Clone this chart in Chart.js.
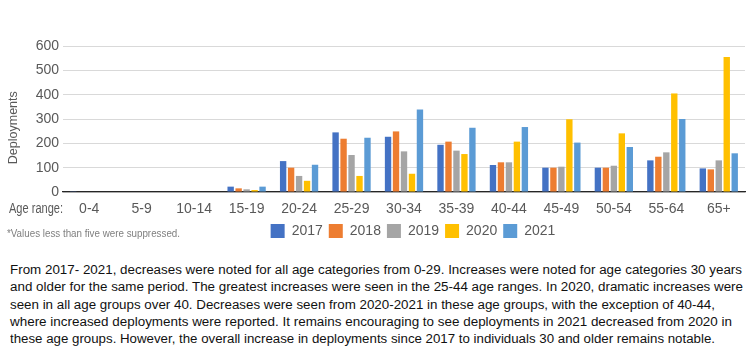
<!DOCTYPE html>
<html>
<head>
<meta charset="utf-8">
<script src="https://cdn.jsdelivr.net/npm/chart.js@4.4.1/dist/chart.umd.min.js"></script>
<style>
  html, body { margin: 0; padding: 0; background: #fff; }
  #wrap { position: relative; width: 752px; height: 359px; overflow: hidden; }
  #c { position: absolute; left: 0; top: 0; }
  .fit { position: absolute; white-space: nowrap; transform-origin: 0 50%; display: inline-block; }
  .para { font-family: "Liberation Sans", Arial, sans-serif; font-size: 12.5px; color: #111; line-height: 16px; }
  .note { font-family: "Liberation Sans", Arial, sans-serif; font-size: 10px; color: #7f7f7f; line-height: 12px; }
  .axl { font-family: "Liberation Sans", Arial, sans-serif; font-size: 14px; color: #595959; line-height: 16px; }
</style>
</head>
<body>
<div id="wrap">
  <canvas id="c" width="752" height="248"></canvas>
  <div class="fit axl" style="left:9px; top:200px" data-w="54">Age range:</div>
  <div class="fit note" style="left:7px; top:228px" data-w="173">*Values less than five were suppressed.</div>
  <div id="para"></div>
</div>
<script>
const categories = ['0-4','5-9','10-14','15-19','20-24','25-29','30-34','35-39','40-44','45-49','50-54','55-64','65+'];
const seriesNames = ['2017','2018','2019','2020','2021'];
const v2017 = [3, 0, 0, 22, 127, 245, 227, 194, 111, 100, 100, 130, 97];
const v2018 = [0, 0, 0, 15, 100, 219, 249, 207, 122, 100, 100, 145, 93];
const v2019 = [0, 0, 0, 11, 66, 152, 167, 170, 122, 104, 108, 163, 130];
const v2020 = [0, 0, 0, 8, 46, 66, 75, 156, 207, 299, 241, 405, 555];
const v2021 = [0, 0, 0, 22, 112, 223, 339, 264, 267, 203, 185, 300, 159];
const yTicks = [0, 100, 200, 300, 400, 500, 600];
const paragraphLines = [
  'From 2017- 2021, decreases were noted for all age categories from 0-29. Increases were noted for age categories 30 years',
  'and older for the same period. The greatest increases were seen in the 25-44 age ranges. In 2020, dramatic increases were',
  'seen in all age groups over 40. Decreases were seen from 2020-2021 in these age groups, with the exception of 40-44,',
  'where increased deployments were reported. It remains encouraging to see deployments in 2021 decreased from 2020 in',
  'these age groups. However, the overall increase in deployments since 2017 to individuals 30 and older remains notable.'
];

const colors = ['#4472C4', '#ED7D31', '#A5A5A5', '#FFC000', '#5B9BD5'];
const values = [v2017, v2018, v2019, v2020, v2021];

// paragraph
const lineEnds = [742, 743, 715, 732, 715];
const para = document.getElementById('para');
paragraphLines.forEach((t, i) => {
  const d = document.createElement('div');
  d.className = 'fit para';
  d.style.left = '10px';
  d.style.top = (262 + i * 17.3) + 'px';
  d.dataset.w = lineEnds[i] - 10;
  d.textContent = t;
  para.appendChild(d);
});
document.querySelectorAll('.fit').forEach(el => {
  const w = el.getBoundingClientRect().width;
  const t = +el.dataset.w;
  if (w > 0) el.style.transform = 'scaleX(' + (t / w) + ')';
});

const shiftLegend = {
  id: 'shiftLegend',
  afterLayout(chart) {
    const l = chart.legend;
    if (!l) return;
    const d = 413 - (l.left + l.right) / 2;
    l.left += d; l.right += d;
  }
};

const FONT = '"Liberation Sans", Arial, sans-serif';
new Chart(document.getElementById('c'), {
  type: 'bar',
  data: {
    labels: categories,
    datasets: seriesNames.map((n, i) => ({
      label: n,
      data: values[i],
      backgroundColor: colors[i],
      borderWidth: 0,
      categoryPercentage: 0.76,
      barPercentage: 0.8
    }))
  },
  options: {
    responsive: false,
    devicePixelRatio: 1,
    animation: false,
    layout: { padding: { left: 0, right: 7, top: 46, bottom: 0 } },
    plugins: {
      legend: {
        position: 'bottom',
        labels: {
          boxWidth: 14, boxHeight: 14, padding: 6,
          color: '#595959',
          font: { family: FONT, size: 14 }
        }
      },
      tooltip: { enabled: false }
    },
    scales: {
      x: {
        grid: { display: false, drawTicks: false },
        border: { display: true, color: '#262626', width: 1.2 },
        ticks: { color: '#595959', font: { family: FONT, size: 14 }, padding: 9, maxRotation: 0, autoSkip: false },
        afterFit(s) { s.height = 26; }
      },
      y: {
        min: 0, max: 600,
        afterBuildTicks(s) { s.ticks = yTicks.map(v => ({ value: v })); },
        grid: { color: '#d9d9d9', lineWidth: 1, drawTicks: false },
        border: { display: false },
        ticks: { color: '#595959', font: { family: FONT, size: 14 }, padding: 4 },
        title: {
          display: true, text: 'Deployments     ', color: '#595959',
          font: { family: FONT, size: 12.5 }, padding: { top: 6, bottom: 0 }
        },
        afterFit(s) { s.width = 63; }
      }
    }
  },
  plugins: [shiftLegend]
});
</script>
</body>
</html>
